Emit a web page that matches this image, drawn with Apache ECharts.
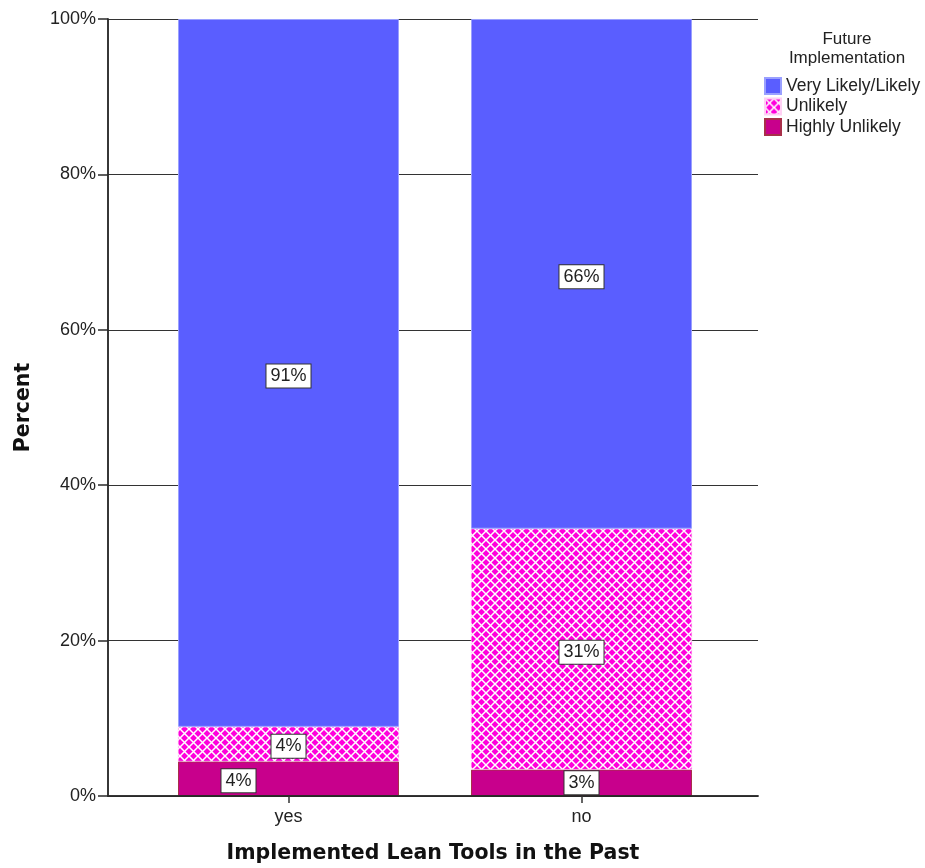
<!DOCTYPE html>
<html>
<head>
<meta charset="utf-8">
<script src="https://cdn.jsdelivr.net/npm/echarts@6/dist/echarts.min.js"></script>
<style>
  html, body { margin: 0; padding: 0; background: #fff; }
  #chart { width: 925px; height: 868px; }
</style>
</head>
<body>
<div id="chart"></div>
<script>
// Implemented lean tools in the past vs. likelihood of future implementation (percent of group)
const categories = ['yes', 'no'];
const seriesNames = ['Very Likely/Likely', 'Unlikely', 'Highly Unlikely'];
const highlyUnlikely = [4.45, 3.4];
const unlikely = [4.45, 31.0];
const veryLikely = [91.1, 65.6];
const yTicks = [0, 20, 40, 60, 80, 100];

// diamond crosshatch fill used for the "Unlikely" segment
function hatch() {
  const s = 9;
  const c = document.createElement('canvas');
  c.width = s; c.height = s;
  const g = c.getContext('2d');
  g.fillStyle = '#ff00dc';
  g.fillRect(0, 0, s, s);
  g.strokeStyle = '#ffffff';
  g.lineWidth = 1.5;
  g.beginPath();
  g.moveTo(-1, -1); g.lineTo(s + 1, s + 1);
  g.moveTo(s + 1, -1); g.lineTo(-1, s + 1);
  g.stroke();
  return { image: c, repeat: 'repeat' };
}

const sans = 'Liberation Sans, Arial, sans-serif';

const labelBox = {
  show: true,
  position: 'inside',
  fontFamily: sans,
  fontSize: 18,
  color: '#222',
  backgroundColor: '#fff',
  borderColor: '#333',
  borderWidth: 1,
  padding: [3, 4, 2, 4],
  formatter: p => Math.round(p.value) + '%'
};

function items(values, offsets) {
  return values.map((v, i) => ({
    value: v,
    label: offsets && offsets[i] ? { offset: offsets[i] } : undefined
  }));
}

const chart = echarts.init(document.getElementById('chart'), null, { renderer: 'canvas' });

const frameLine = { show: true, lineStyle: { color: '#2a2a2a', width: 1.5 } };

chart.setOption({
  animation: false,
  backgroundColor: '#fff',
  title: {
    text: 'Future\nImplementation',
    left: 842,
    top: 25,
    textAlign: 'center',
    textStyle: {
      fontFamily: sans,
      fontSize: 17, fontWeight: 'normal', color: '#222', lineHeight: 19
    }
  },
  legend: {
    orient: 'vertical',
    left: 764,
    top: 77,
    padding: 0,
    itemWidth: 16,
    itemHeight: 16,
    itemGap: 2.5,
    icon: 'rect',
    data: seriesNames,
    textStyle: {
      fontFamily: sans,
      fontSize: 17.5, color: '#222'
    }
  },
  grid: [
    // frame with the percent scale
    { left: 108, top: 19, width: 650, height: 777, outerBoundsMode: 'none' },
    // bar layout
    { left: 142, top: 19, width: 586, height: 777, outerBoundsMode: 'none' }
  ],
  xAxis: [
    {
      gridIndex: 0, type: 'value', min: 0, max: 1, z: 5,
      axisLine: frameLine, axisTick: { show: false }, axisLabel: { show: false },
      splitLine: { show: false },
      name: 'Implemented Lean Tools in the Past',
      nameLocation: 'middle', nameGap: 47,
      nameTextStyle: {
        fontFamily: 'DejaVu Sans, Verdana, sans-serif',
        fontSize: 20.5, fontWeight: 'bold', color: '#111'
      }
    },
    {
      gridIndex: 0, type: 'value', min: 0, max: 1, position: 'top', z: 5,
      axisLine: frameLine, axisTick: { show: false }, axisLabel: { show: false },
      splitLine: { show: false }
    },
    {
      gridIndex: 1, type: 'category', data: categories, z: 5,
      axisLine: { show: false },
      axisTick: { show: true, alignWithLabel: true, length: 7, lineStyle: { color: '#333', width: 1.5 } },
      axisLabel: {
        margin: 12,
        fontFamily: sans,
        fontSize: 18, color: '#222'
      }
    }
  ],
  yAxis: [
    {
      // percent scale: frame line, ticks and labels on top of the bars
      gridIndex: 0, type: 'value', min: 0, max: 100, interval: 20, z: 5,
      axisLine: frameLine,
      axisTick: { show: true, length: 10, lineStyle: { color: '#2a2a2a', width: 1.5 } },
      axisLabel: {
        margin: 12,
        formatter: '{value}%',
        fontFamily: sans,
        fontSize: 18, color: '#222'
      },
      splitLine: { show: false },
      name: 'Percent',
      nameLocation: 'middle', nameGap: 74,
      nameTextStyle: {
        fontFamily: 'DejaVu Sans, Verdana, sans-serif',
        fontSize: 20.5, fontWeight: 'bold', color: '#111'
      }
    },
    {
      gridIndex: 0, type: 'value', min: 0, max: 100, position: 'right', z: 5,
      axisLine: frameLine, axisTick: { show: false }, axisLabel: { show: false },
      splitLine: { show: false }
    },
    {
      gridIndex: 1, type: 'value', min: 0, max: 100, show: false
    },
    {
      // horizontal gridlines behind the bars
      gridIndex: 0, type: 'value', min: 0, max: 100, interval: 20, z: 0,
      axisLine: { show: false }, axisTick: { show: false }, axisLabel: { show: false },
      splitLine: { show: true, lineStyle: { color: '#333', width: 1.2 } }
    }
  ],
  series: [
    {
      name: seriesNames[2], type: 'bar', stack: 'pct',
      xAxisIndex: 2, yAxisIndex: 2, barWidth: 221,
      itemStyle: { color: '#c8008c', borderColor: '#a8304a', borderWidth: 1 },
      label: labelBox,
      data: items(highlyUnlikely, [[-50, 2], null])
    },
    {
      name: seriesNames[1], type: 'bar', stack: 'pct',
      xAxisIndex: 2, yAxisIndex: 2, barWidth: 221,
      itemStyle: { color: hatch(), borderColor: '#ffd0f4', borderWidth: 0.5 },
      label: labelBox,
      data: items(unlikely, [[0, 2], [0, 3]])
    },
    {
      name: seriesNames[0], type: 'bar', stack: 'pct',
      xAxisIndex: 2, yAxisIndex: 2, barWidth: 221,
      itemStyle: { color: '#5a5eff', borderColor: '#9aa0ff', borderWidth: 1 },
      label: labelBox,
      data: items(veryLikely, [[0, 3], [0, 3]])
    }
  ]
});
</script>
</body>
</html>
